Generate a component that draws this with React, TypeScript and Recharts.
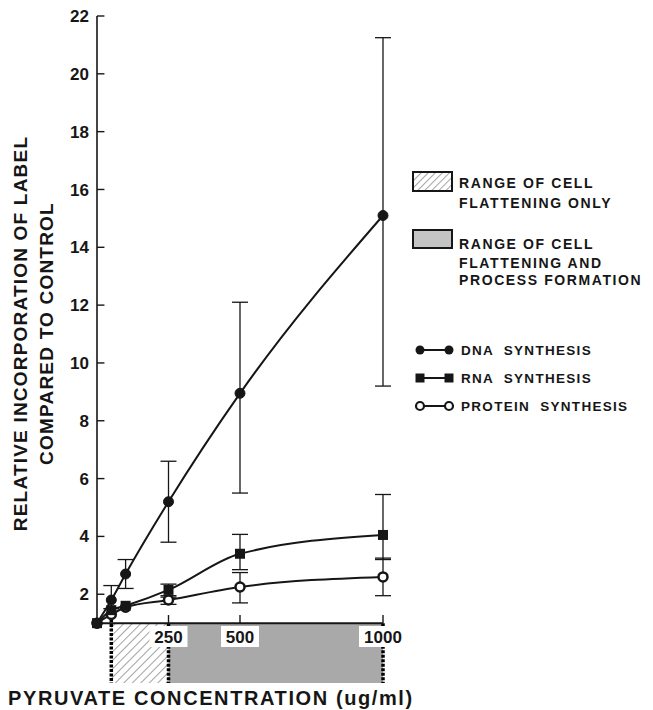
import {
  ComposedChart,
  Line,
  XAxis,
  YAxis,
  ErrorBar,
  ReferenceArea,
  ReferenceLine,
  Legend,
} from "recharts";

// pyruvate concentration (ug/ml)
const concentrations = [0, 50, 100, 250, 500, 1000];

const dnaMean = [1.0, 1.8, 2.7, 5.2, 8.95, 15.1];
const dnaLow = [null, 1.5, 2.2, 3.8, 5.5, 9.2];
const dnaHigh = [null, 2.3, 3.2, 6.6, 12.1, 21.25];

const rnaMean = [1.0, 1.45, 1.6, 2.15, 3.4, 4.05];
const rnaLow = [null, null, null, 1.9, 2.85, 3.2];
const rnaHigh = [null, null, null, 2.35, 4.07, 5.45];

const proteinMean = [1.0, 1.3, 1.55, 1.8, 2.25, 2.6];
const proteinLow = [null, null, null, 1.65, 1.7, 1.95];
const proteinHigh = [null, null, null, 1.95, 2.75, 3.25];

const yTicks = [2, 4, 6, 8, 10, 12, 14, 16, 18, 20, 22];
const xTicks = [250, 500, 1000];

const flatteningOnly = [50, 250];
const processFormation = [250, 1000];

const yBase = 1;
const stripBottom = -1.07;

const FONT = "'Liberation Sans', Arial, sans-serif";
const INK = "#161616";

const err = (m: number, lo: number | null, hi: number | null) =>
  lo == null || hi == null ? null : [m - lo, hi - m];

const data = concentrations.map((x, i) => ({
  x,
  dna: dnaMean[i],
  dnaErr: err(dnaMean[i], dnaLow[i], dnaHigh[i]),
  rna: rnaMean[i],
  rnaErr: err(rnaMean[i], rnaLow[i], rnaHigh[i]),
  protein: proteinMean[i],
  proteinErr: err(proteinMean[i], proteinLow[i], proteinHigh[i]),
}));

const SquareDot = (props: any) => {
  const { cx, cy } = props;
  if (cx == null || cy == null) return null;
  return <rect x={cx - 5} y={cy - 5} width={10} height={10} fill={INK} />;
};

const XTick = (props: any) => {
  const { x, y, payload } = props;
  const label = String(payload.value);
  const w = label.length * 10 + 8;
  return (
    <g>
      <rect x={x - w / 2} y={y - 57} width={w} height={21} fill="#fff" />
      <text
        x={x}
        y={y - 46}
        textAnchor="middle"
        dominantBaseline="central"
        fontFamily={FONT}
        fontSize={17}
        fontWeight={700}
        fill={INK}
      >
        {label}
      </text>
    </g>
  );
};

const YTitle = (props: any) => {
  const vb = props.viewBox || { x: 0, y: 0, width: 0, height: 0 };
  const cy = vb.y + vb.height / 2 - 16;
  const common = {
    textAnchor: "middle" as const,
    dominantBaseline: "central" as const,
    fontFamily: FONT,
    fontSize: 19,
    fontWeight: 700,
    letterSpacing: 1.2,
    fill: INK,
  };
  return (
    <g>
      <text x={vb.x + 20} y={cy} transform={`rotate(-90 ${vb.x + 20} ${cy})`} {...common}>
        RELATIVE INCORPORATION OF LABEL
      </text>
      <text x={vb.x + 46} y={cy} transform={`rotate(-90 ${vb.x + 46} ${cy})`} {...common}>
        COMPARED TO CONTROL
      </text>
    </g>
  );
};

const XTitle = (props: any) => {
  const vb = props.viewBox || { x: 0, y: 0, width: 0, height: 0 };
  return (
    <text
      x={8}
      y={vb.y + 15}
      dominantBaseline="central"
      fontFamily={FONT}
      fontSize={20}
      fontWeight={700}
      letterSpacing={1.6}
      fill={INK}
    >
      PYRUVATE CONCENTRATION (ug/ml)
    </text>
  );
};

const legendText = {
  fontFamily: FONT,
  fontSize: 14,
  fontWeight: 700,
  letterSpacing: 1.6,
  fill: INK,
  dominantBaseline: "central" as const,
  style: { whiteSpace: "pre" as const },
};

const seriesKeys = [
  { label: "DNA  SYNTHESIS", kind: "filled" },
  { label: "RNA  SYNTHESIS", kind: "square" },
  { label: "PROTEIN  SYNTHESIS", kind: "open" },
];

const Marker = ({ kind, x, y }: { kind: string; x: number; y: number }) => {
  if (kind === "square") return <rect x={x - 4.5} y={y - 4.5} width={9} height={9} fill={INK} />;
  if (kind === "open")
    return <circle cx={x} cy={y} r={4} fill="#fff" stroke={INK} strokeWidth={2.2} />;
  return <circle cx={x} cy={y} r={4.5} fill={INK} />;
};

const RangeLegend = () => (
  <svg width={248} height={265} style={{ overflow: "visible" }}>
    <defs>
      <pattern id="hatchLegend" width="5" height="5" patternUnits="userSpaceOnUse" patternTransform="rotate(45)">
        <rect width="5" height="5" fill="#fff" />
        <line x1="0" y1="0" x2="0" y2="5" stroke="#888" strokeWidth="1.5" />
      </pattern>
    </defs>
    <rect x={8} y={12} width={39} height={19} fill="url(#hatchLegend)" stroke={INK} strokeWidth={2} />
    <text x={54} y={23} {...legendText}>RANGE OF CELL</text>
    <text x={54} y={43} {...legendText}>FLATTENING ONLY</text>
    <rect x={8} y={70} width={39} height={18} fill="#c4c4c4" stroke={INK} strokeWidth={2} />
    <text x={54} y={84} {...legendText}>RANGE OF CELL</text>
    <text x={54} y={103} {...legendText}>FLATTENING AND</text>
    <text x={54} y={120} {...legendText}>PROCESS FORMATION</text>
    {seriesKeys.map((s, i) => {
      const y = 190 + i * 28;
      return (
        <g key={s.label}>
          <line x1={19} y1={y} x2={40} y2={y} stroke={INK} strokeWidth={2} />
          <Marker kind={s.kind} x={15} y={y} />
          <Marker kind={s.kind} x={44} y={y} />
          <text x={56} y={y} {...legendText} fontSize={13.5} letterSpacing={1.3}>
            {s.label}
          </text>
        </g>
      );
    })}
  </svg>
);

export default function App() {
  return (
    <div style={{ position: "absolute", left: 0, top: 0, background: "#fff" }}>
      <ComposedChart
        width={653}
        height={710}
        data={data}
        margin={{ top: 16, right: 270, left: 0, bottom: 0 }}
      >
        <defs>
          <pattern id="hatch" width="6" height="6" patternUnits="userSpaceOnUse" patternTransform="rotate(45)">
            <rect width="6" height="6" fill="#fff" />
            <line x1="0" y1="0" x2="0" y2="6" stroke="#8a8a8a" strokeWidth="1.6" />
          </pattern>
        </defs>
        <XAxis
          type="number"
          dataKey="x"
          domain={[0, 1000]}
          ticks={xTicks}
          axisLine={false}
          tickLine={false}
          tickSize={0}
          tickMargin={0}
          height={27}
          tick={<XTick />}
          label={<XTitle />}
        />
        <YAxis
          type="number"
          domain={[stripBottom, 22]}
          ticks={yTicks}
          width={97}
          axisLine={false}
          tickLine={false}
          tickSize={6}
          tickMargin={2}
          tick={{ fontFamily: FONT, fontSize: 17, fontWeight: 700, fill: INK }}
          label={<YTitle />}
        />
        <ReferenceArea
          x1={flatteningOnly[0]}
          x2={flatteningOnly[1]}
          y1={stripBottom}
          y2={yBase}
          fill="url(#hatch)"
          fillOpacity={1}
          stroke="none"
        />
        <ReferenceArea
          x1={processFormation[0]}
          x2={processFormation[1]}
          y1={stripBottom}
          y2={yBase}
          fill="#a9a9a9"
          fillOpacity={1}
          stroke="none"
        />
        {[flatteningOnly[0], processFormation[0], processFormation[1]].map((v) => (
          <ReferenceLine
            key={`edge-${v}`}
            segment={[
              { x: v, y: v === flatteningOnly[0] ? 1.28 : yBase },
              { x: v, y: stripBottom },
            ]}
            stroke="#000"
            strokeWidth={3.5}
            strokeDasharray="3 1.5"
          />
        ))}
        <ReferenceLine
          segment={[
            { x: 0, y: yBase },
            { x: 0, y: 22 },
          ]}
          stroke={INK}
          strokeWidth={1.6}
        />
        <ReferenceLine
          segment={[
            { x: 0, y: yBase },
            { x: 1000, y: yBase },
          ]}
          stroke={INK}
          strokeWidth={2}
        />
        {yTicks.map((t) => (
          <ReferenceLine
            key={`yt-${t}`}
            segment={[
              { x: 0, y: t },
              { x: 26, y: t },
            ]}
            stroke={INK}
            strokeWidth={1.4}
          />
        ))}
        {xTicks.map((t) => (
          <ReferenceLine
            key={`xt-${t}`}
            segment={[
              { x: t, y: yBase },
              { x: t, y: 1.28 },
            ]}
            stroke={INK}
            strokeWidth={1.4}
          />
        ))}
        <Line
          type="monotone"
          dataKey="protein"
          stroke={INK}
          strokeWidth={2}
          isAnimationActive={false}
          dot={{ r: 4.5, fill: "#fff", stroke: INK, strokeWidth: 2.5 }}
        >
          <ErrorBar dataKey="proteinErr" width={8} stroke={INK} strokeWidth={1.3} direction="y" />
        </Line>
        <Line
          type="monotone"
          dataKey="rna"
          stroke={INK}
          strokeWidth={2}
          isAnimationActive={false}
          dot={<SquareDot />}
        >
          <ErrorBar dataKey="rnaErr" width={8} stroke={INK} strokeWidth={1.3} direction="y" />
        </Line>
        <Line
          type="monotone"
          dataKey="dna"
          stroke={INK}
          strokeWidth={2}
          isAnimationActive={false}
          dot={{ r: 5, fill: INK, stroke: INK, strokeWidth: 1 }}
        >
          <ErrorBar dataKey="dnaErr" width={8} stroke={INK} strokeWidth={1.3} direction="y" />
        </Line>
        <Legend
          layout="horizontal"
          verticalAlign="middle"
          align="center"
          content={<RangeLegend />}
          wrapperStyle={{ left: 405, top: 160, width: 248, height: 265 }}
        />
      </ComposedChart>
    </div>
  );
}
